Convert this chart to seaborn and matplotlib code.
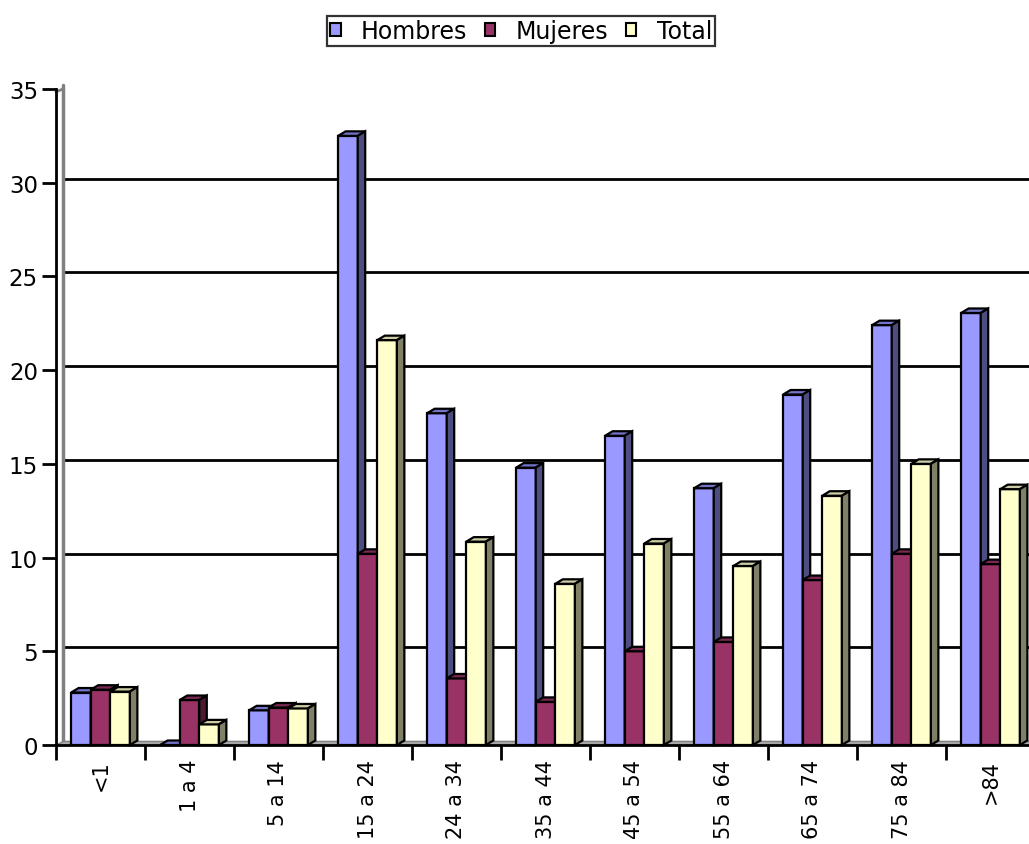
import numpy as np
import pandas as pd
import matplotlib
matplotlib.use("Agg")
import matplotlib.pyplot as plt
from matplotlib.patches import Polygon, Patch
from matplotlib.lines import Line2D
from matplotlib.transforms import ScaledTranslation
import seaborn as sns

# Age groups
categories = ["<1", "1 a 4", "5 a 14", "15 a 24", "24 a 34", "35 a 44",
              "45 a 54", "55 a 64", "65 a 74", "75 a 84", ">84"]

# Rates by sex
hombres = [2.8, 0.0, 1.85, 32.5, 17.7, 14.8, 16.5, 13.7, 18.7, 22.4, 23.05]
mujeres = [2.95, 2.4, 2.0, 10.2, 3.55, 2.3, 5.0, 5.5, 8.8, 10.2, 9.65]
total = [2.85, 1.1, 1.95, 21.6, 10.85, 8.6, 10.75, 9.55, 13.3, 15.0, 13.65]

series = ["Hombres", "Mujeres", "Total"]
front_colors = ["#9999FF", "#993366", "#FFFFCC"]
top_colors = ["#7373C8", "#7A2952", "#CCCCA6"]
side_colors = ["#4D4D80", "#4D1A33", "#808066"]

yticks = [0, 5, 10, 15, 20, 25, 30, 35]

df = pd.DataFrame({
    "grupo": categories * 3,
    "serie": sum([[s] * len(categories) for s in series], []),
    "valor": hombres + mujeres + total,
})

sns.set_theme(style="white")
plt.rcParams["font.family"] = ["DejaVu Sans"]
plt.rcParams["text.color"] = "black"
plt.rcParams["xtick.color"] = "black"
plt.rcParams["ytick.color"] = "black"
plt.rcParams["xtick.labelcolor"] = "black"
plt.rcParams["ytick.labelcolor"] = "black"

W, H = 1029, 845
fig = plt.figure(figsize=(W / 100, H / 100), dpi=100)

# plot area in pixels
left_px, bottom_px, width_px, height_px = 56, 99, 979, 656
ax = fig.add_axes([left_px / W, bottom_px / H, width_px / W, height_px / H])

sns.barplot(data=df, x="grupo", y="valor", hue="serie", order=categories,
            hue_order=series, palette=front_colors, width=0.66,
            edgecolor="black", linewidth=1.6, saturation=1, ax=ax, legend=False)

ncat = len(categories)
ymax = 35
ax.set_xlim(-0.5, ncat - 0.5)
ax.set_ylim(0, ymax)

# 3D depth of the columns, in data units
dx = 7.5 * ncat / width_px
dy = 4.5 * ymax / height_px

for k, cont in enumerate(ax.containers):
    for rect in cont.patches:
        rect.set_zorder(3 + k)
        x0 = rect.get_x()
        w = rect.get_width()
        h = rect.get_height()
        x1 = x0 + w
        top = Polygon([(x0, h), (x1, h), (x1 + dx, h + dy), (x0 + dx, h + dy)],
                      closed=True, facecolor=top_colors[k], edgecolor="black",
                      linewidth=1.6, zorder=3 + k + 0.1, clip_on=False)
        side = Polygon([(x1, 0), (x1, h), (x1 + dx, h + dy), (x1 + dx, dy)],
                       closed=True, facecolor=side_colors[k], edgecolor="black",
                       linewidth=1.6, zorder=3 + k + 0.1, clip_on=False)
        ax.add_patch(top)
        ax.add_patch(side)

# back wall offset (pixels -> inches)
wall = ax.transData + ScaledTranslation(7 / 100, 4 / 100, fig.dpi_scale_trans)

# gridlines on the back wall
for yv in yticks[1:-1]:
    ax.add_line(Line2D([-0.5, ncat + 1], [yv, yv], transform=wall,
                       color="black", linewidth=2, zorder=1, clip_on=False))

# back wall edge
ax.add_line(Line2D([-0.5, -0.5], [0, ymax], transform=wall,
                   color="#808080", linewidth=2.5, zorder=1.5, clip_on=False))
ax.add_line(Line2D([-0.5, -0.5 + dx * 0.95], [ymax - dy * 0.6, ymax],
                   color="#808080", linewidth=2, zorder=1.5, clip_on=False))

# floor
floor = Polygon([(-0.5, 0), (ncat + 1, 0), (ncat + 1 + dx, dy * 0.8), (-0.5 + dx, dy * 0.8)],
                closed=True, facecolor="#A8A8A8", edgecolor="#808080",
                linewidth=1.0, zorder=2, clip_on=False)
ax.add_patch(floor)

# axes
for s in ["top", "right"]:
    ax.spines[s].set_visible(False)
for s in ["left", "bottom"]:
    ax.spines[s].set_color("black")
    ax.spines[s].set_linewidth(2)
    ax.spines[s].set_zorder(10)
ax.spines["bottom"].set_bounds(-0.5, ncat + 1)

ax.set_yticks(yticks)
ax.set_yticklabels([str(v) for v in yticks])
major_x = np.arange(-0.5, ncat, 1.0)
ax.set_xticks(major_x)
ax.set_xticklabels([""] * len(major_x))
ax.set_xticks(np.arange(ncat), minor=True)
ax.set_xticklabels(categories, minor=True, rotation=90, va="top", ha="center")
ax.tick_params(axis="y", which="major", direction="out", length=10, width=2,
               color="black", labelsize=16.5, labelcolor="black", pad=3, left=True)
ax.tick_params(axis="x", which="major", direction="out", length=11, width=2,
               color="black", bottom=True)
ax.tick_params(axis="x", which="minor", length=0, labelsize=15,
               labelcolor="black", pad=10)
ax.set_xlabel("")
ax.set_ylabel("")
ax.grid(False)
ax.set_facecolor("white")

handles = [Patch(facecolor=c, edgecolor="black", linewidth=1.5) for c in front_colors]
leg = fig.legend(handles, series, loc="center", bbox_to_anchor=(521 / W, 1 - 32 / H),
                 ncol=3, fontsize=17, frameon=True, fancybox=False,
                 handlelength=0.45, handleheight=0.45, handletextpad=0.85,
                 columnspacing=0.75, borderpad=0.12, borderaxespad=0)
leg.get_frame().set_edgecolor("black")
leg.get_frame().set_linewidth(1.6)
for t in leg.get_texts():
    t.set_color("black")

fig.savefig("out.png", dpi=100, facecolor="white")
